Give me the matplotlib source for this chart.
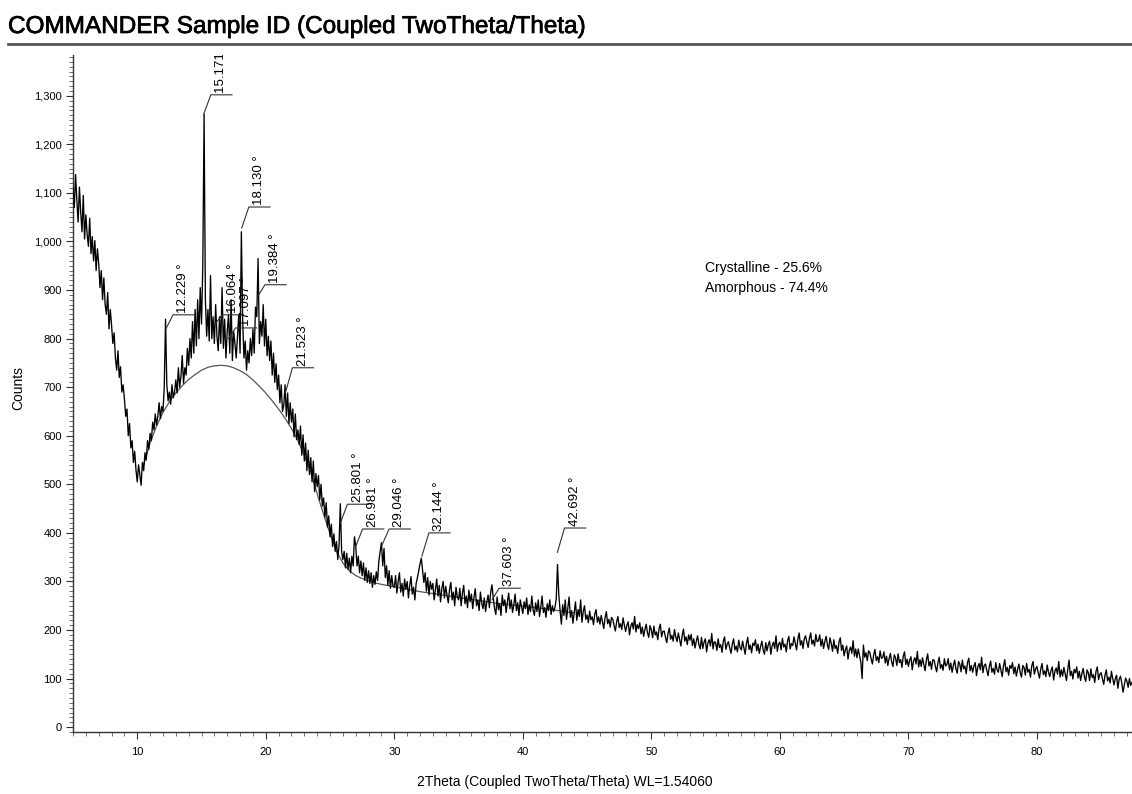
import numpy as np
import matplotlib
matplotlib.use("Agg")
import matplotlib.pyplot as plt
from matplotlib.ticker import MultipleLocator, FuncFormatter
from matplotlib.lines import Line2D
import matplotlib.patheffects as pe

plt.rcParams['font.family'] = ['Liberation Sans', 'DejaVu Sans']

# ---- data: counts, 2theta 5.0 .. 87.4, step 0.1 ----
counts_list = [
    1110, 1070, 1138, 1085, 1040, 1112, 1060, 1020, 1095, 1005,   # 5
    1055, 1015, 990, 1048, 975, 1010, 960, 1002, 940, 985,        # 6
    955, 905, 940, 880, 925, 870, 850, 895, 820, 860,             # 7
    828, 790, 812, 760, 735, 775, 720, 742, 690, 705,             # 8
    676, 640, 655, 600, 625, 575, 590, 545, 568, 530,             # 9
    505, 540, 520, 498, 545, 528, 565, 550, 590, 572,             # 10
    605, 590, 628, 612, 645, 622, 640, 668, 635, 660,             # 11
    650, 700, 840, 705, 672, 690, 665, 705, 678, 690,             # 12
    715, 688, 740, 700, 722, 765, 708, 740, 725, 780,             # 13
    745, 800, 760, 835, 770, 860, 785, 880, 800, 905,             # 14
    830, 950, 1262, 880, 805, 860, 795, 930, 800, 845,            # 15
    790, 870, 805, 775, 845, 790, 905, 780, 840, 760,             # 16
    815, 850, 770, 880, 755, 815, 790, 760, 805, 850,             # 17
    770, 1020, 840, 760, 795, 735, 775, 750, 800, 765,            # 18
    820, 770, 865, 845, 965, 790, 835, 805, 870, 785,             # 19
    840, 765, 805, 755, 795, 725, 770, 710, 748, 695,             # 20
    725, 668, 705, 650, 662, 705, 640, 688, 625, 668,             # 21
    628, 655, 598, 645, 592, 612, 582, 620, 560, 602,             # 22
    548, 585, 528, 570, 520, 555, 505, 548, 485, 522,             # 23
    495, 518, 468, 500, 455, 472, 432, 462, 412, 435,             # 24
    392, 418, 372, 398, 362, 382, 345, 375, 460, 362,             # 25
    345, 362, 328, 358, 325, 348, 318, 352, 332, 392,             # 26
    372, 332, 352, 318, 342, 312, 338, 302, 328, 298,             # 27
    322, 296, 318, 288, 312, 294, 320, 302, 342, 362,             # 28
    380, 332, 368, 308, 332, 292, 322, 286, 312, 290,             # 29
    288, 312, 276, 300, 318, 278, 296, 270, 305, 284,             # 30
    300, 266, 292, 310, 274, 288, 262, 296, 308, 322,             # 31
    336, 348, 322, 298, 318, 280, 308, 272, 300, 284,             # 32
    296, 262, 284, 305, 270, 292, 258, 286, 300, 266,             # 33
    290, 272, 256, 284, 298, 262, 278, 250, 288, 268,             # 34
    262, 286, 250, 276, 292, 254, 270, 246, 282, 258,             # 35
    274, 244, 268, 285, 250, 262, 240, 278, 256, 244,             # 36
    266, 238, 258, 272, 246, 278, 293, 266, 244, 232,             # 37
    268, 242, 254, 230, 272, 250, 262, 236, 258, 276,             # 38
    244, 262, 236, 252, 274, 240, 256, 230, 262, 248,             # 39
    234, 258, 244, 266, 232, 252, 238, 270, 242, 230,             # 40
    256, 238, 262, 228, 248, 270, 236, 246, 226, 254,             # 41
    240, 262, 232, 250, 238, 246, 264, 335, 272, 240,             # 42
    212, 252, 230, 262, 222, 246, 268, 226, 240, 214,             # 43
    236, 258, 220, 242, 228, 262, 216, 238, 250, 222,             # 44
    231, 215, 239, 221, 227, 211, 233, 242, 216, 227,             # 45
    212, 230, 216, 203, 225, 238, 213, 222, 206, 226,             # 46
    222, 209, 198, 217, 228, 205, 213, 201, 225, 210,             # 47
    197, 210, 217, 190, 208, 215, 202, 228, 196, 211,             # 48
    203, 215, 192, 206, 187, 201, 212, 194, 185, 209,             # 49
    200, 184, 208, 190, 196, 180, 203, 212, 186, 197,             # 50
    198, 185, 174, 193, 204, 181, 189, 177, 201, 186,             # 51
    176, 194, 180, 167, 189, 202, 177, 186, 170, 190,             # 52
    179, 191, 168, 182, 163, 177, 188, 170, 161, 185,             # 53
    162, 175, 182, 155, 173, 180, 167, 193, 161, 176,             # 54
    174, 158, 182, 164, 170, 154, 177, 186, 160, 171,             # 55
    176, 163, 152, 171, 182, 159, 167, 155, 179, 164,             # 56
    159, 177, 163, 150, 172, 185, 160, 169, 153, 173,             # 57
    168, 180, 157, 171, 152, 166, 177, 159, 150, 174,             # 58
    157, 170, 177, 150, 168, 175, 162, 188, 156, 171,             # 59
    175, 159, 183, 165, 171, 155, 178, 187, 161, 172,             # 60
    168, 186, 172, 159, 181, 194, 169, 178, 162, 182,             # 61
    188, 175, 164, 183, 194, 171, 179, 167, 191, 176,             # 62
    178, 190, 167, 181, 162, 176, 187, 169, 160, 184,             # 63
    172, 156, 180, 162, 168, 152, 175, 184, 158, 169,             # 64
    147, 160, 167, 140, 158, 165, 152, 178, 146, 161,             # 65
    143, 161, 147, 134, 100, 169, 144, 153, 137, 157,             # 66
    154, 141, 130, 149, 160, 137, 145, 133, 157, 142,             # 67
    143, 155, 132, 146, 127, 141, 152, 134, 125, 149,             # 68
    143, 127, 151, 133, 139, 123, 146, 155, 129, 140,             # 69
    125, 138, 145, 118, 136, 143, 130, 156, 124, 139,             # 70
    125, 143, 129, 116, 138, 151, 126, 135, 119, 139,             # 71
    138, 125, 114, 133, 144, 121, 129, 117, 141, 126,             # 72
    129, 141, 118, 132, 113, 127, 138, 120, 111, 135,             # 73
    130, 114, 138, 120, 126, 110, 133, 142, 116, 127,             # 74
    113, 126, 133, 106, 124, 131, 118, 144, 112, 127,             # 75
    130, 117, 106, 125, 136, 113, 121, 109, 133, 118,             # 76
    113, 131, 117, 104, 126, 139, 114, 123, 107, 127,             # 77
    121, 133, 110, 124, 105, 119, 130, 112, 103, 127,             # 78
    123, 107, 131, 113, 119, 103, 126, 135, 109, 120,             # 79
    125, 112, 101, 120, 131, 108, 116, 104, 128, 113,             # 80
    104, 117, 124, 97, 115, 122, 109, 135, 103, 118,              # 81
    105, 123, 109, 96, 118, 138, 106, 115, 99, 119,               # 82
    112, 124, 101, 115, 96, 110, 121, 103, 94, 118,               # 83
    112, 96, 120, 102, 108, 92, 115, 124, 98, 109,                # 84
    112, 99, 88, 107, 118, 95, 103, 91, 115, 100,                 # 85
    87, 100, 107, 80, 98, 105, 92, 72, 86, 101,                   # 86
    95, 82, 100, 86, 92,                                          # 87.0-87.4
]
two_theta = 5.0 + 0.1 * np.arange(len(counts_list))
counts = np.array(counts_list, dtype=float)

# ---- amorphous background curve ----
bg_theta = [10.5, 11.0, 11.5, 12.0, 12.5, 13.0, 13.5, 14.0, 14.5, 15.0, 15.5,
            16.0, 16.5, 17.0, 17.5, 18.0, 18.5, 19.0, 19.5, 20.0, 20.5, 21.0,
            21.5, 22.0, 22.5, 23.0, 23.5, 24.0, 24.5, 25.0, 25.5, 26.0, 26.5,
            27.0, 27.5, 28.0, 28.5, 29.0, 30.0, 31.0, 32.0, 33.0, 34.0, 35.0,
            36.0, 37.0, 38.0, 39.0, 40.0, 41.0, 42.0, 43.0, 44.0]
bg_counts = [540, 585, 620, 648, 670, 688, 703, 716, 726, 735, 741,
             744, 745, 744, 740, 734, 726, 715, 702, 688, 672, 655,
             636, 615, 590, 560, 525, 480, 438, 398, 362, 338, 322,
             312, 306, 301, 297, 294, 289, 284, 279, 275, 271, 267,
             263, 259, 255, 252, 249, 246, 243, 239, 235]

# ---- peak labels ----
peak_pos = [12.229, 15.171, 16.064, 17.097, 18.130, 19.384, 21.523,
            25.801, 26.981, 29.046, 32.144, 37.603, 42.692]
leader_start = [820, 1262, 830, 800, 1028, 887, 688, 420, 371, 375, 352, 262, 360]
label_level = [849, 1302, 849, 822, 1071, 911, 740, 459, 408, 408, 400, 286, 410]

phase_text = ["Crystalline - 25.6%", "Amorphous - 74.4%"]

# ---- figure ----
W, H = 1132, 794
fig = plt.figure(figsize=(W / 100, H / 100), dpi=100)
ax = fig.add_axes([73 / W, 1 - 732 / H, 1 - 73 / W, (732 - 55) / H])

ax.plot(bg_theta, bg_counts, color='#555555', lw=0.9, zorder=2)
ax.plot(two_theta, counts, color='black', lw=0.95, zorder=3)

ax.set_xlim(5, 87.4)
ax.set_ylim(-10, 1384)

for sp in ['top', 'right']:
    ax.spines[sp].set_visible(False)
for sp in ['left', 'bottom']:
    ax.spines[sp].set_color('#333333')
    ax.spines[sp].set_linewidth(1.0)

ax.xaxis.set_major_locator(MultipleLocator(10))
ax.xaxis.set_minor_locator(MultipleLocator(1))
ax.yaxis.set_major_locator(MultipleLocator(100))
ax.yaxis.set_minor_locator(MultipleLocator(10))
ax.yaxis.set_major_formatter(FuncFormatter(lambda v, p: f"{int(round(v)):,}"))
ax.xaxis.set_major_formatter(FuncFormatter(lambda v, p: "" if v < 10 else f"{int(v)}"))
ax.tick_params(axis='both', which='major', direction='out', length=5, width=0.8,
               labelsize=8, color='#333333')
ax.tick_params(axis='both', which='minor', direction='out', length=3, width=0.6,
               color='#555555')
ax.tick_params(axis='x', which='major', pad=6)
ax.tick_params(axis='y', which='major', pad=3)

# peak annotations
dx_diag, dx_end, dx_text = 0.55, 2.2, 1.35
for pos, ys, yl in zip(peak_pos, leader_start, label_level):
    ax.plot([pos, pos + dx_diag, pos + dx_end], [ys, yl, yl],
            color='#333333', lw=0.8, zorder=4)
    ax.text(pos + dx_text, yl + 4, f"{pos:.3f} °", rotation=90,
            ha='center', va='bottom', fontsize=9.5, clip_on=True, zorder=5)

ax.text(54.2, 946, phase_text[0], fontsize=10, ha='left', va='center')
ax.text(54.2, 905, phase_text[1], fontsize=10, ha='left', va='center')

# title and rule
fig.text(8 / W, 1 - 27 / H, "COMMANDER Sample ID (Coupled TwoTheta/Theta)",
         fontsize=17.5, ha='left', va='center',
         path_effects=[pe.withStroke(linewidth=0.5, foreground='black')])
fig.add_artist(Line2D([8 / W, 1.0], [1 - 44 / H, 1 - 44 / H], color='#555555',
                      lw=2.0, transform=fig.transFigure))

fig.text(18 / W, 1 - 388 / H, "Counts", rotation=90, fontsize=10,
         ha='center', va='center')
fig.text(565 / W, 1 - 782 / H, "2Theta (Coupled TwoTheta/Theta) WL=1.54060",
         fontsize=10, ha='center', va='center')

fig.savefig("out.png", dpi=100)
